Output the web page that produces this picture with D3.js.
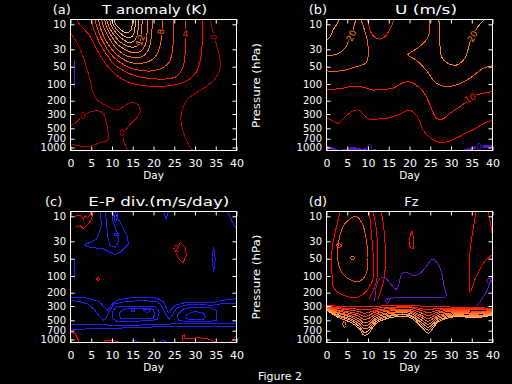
<!DOCTYPE html>
<html>
<head>
<meta charset="utf-8">
<script src="https://cdn.jsdelivr.net/npm/d3@7"></script>
<style>
  body { margin: 0; background: #000; }
  svg { display: block; background: #000; }
  text { font-family: "DejaVu Sans", sans-serif; fill: #fff; }
</style>
</head>
<body>
<svg id="fig" width="512" height="384"></svg>
<script>
var dayTicks = [0, 5, 10, 15, 20, 25, 30, 35, 40];
var pressureTicks = [10, 30, 50, 100, 200, 300, 500, 700, 1000];

// (a) T anomaly, K
var tAnomContours = [
    { level: -2, pts: [[0.85, 41], [0.85, 114]] },
    { level: 0, pts: [[0, 14.6], [1.1, 19.7], [2.7, 33.4], [3.9, 52.7], [4.7, 84], [5.5, 147], [6.4, 194], [7.9, 221], [9.5, 247], [11.5, 266], [12.9, 235], [14.4, 214], [16.1, 221], [16.8, 266], [16.1, 335], [14.9, 399], [13.7, 495], [12.7, 600], [12.9, 799], [13.9, 1143]] },
    { level: 0, pts: [[0, 461], [1.1, 418], [3.0, 322], [4.3, 288], [6.7, 271], [7.9, 294], [8.7, 418], [9.0, 738], [7.1, 823], [4.3, 968], [2.3, 941], [0, 868]] },
    { level: 0, pts: [[33.7, 8.1], [34.4, 14.8], [35.3, 26.8], [36.0, 39.1], [36.1, 53.2], [34.9, 79.6], [32.5, 114], [30.1, 147], [28.1, 194], [26.9, 266], [26.6, 373], [27.3, 589], [28.3, 844], [29.5, 1143]] },
    { level: 2, pts: [[1.5, 8.1], [2.3, 10.3], [4.5, 16], [5.9, 26], [7.4, 37.6], [9.1, 50.6], [11.0, 69.7], [13.4, 89], [16.3, 104], [19.2, 110], [22.8, 110], [26.0, 100], [28.4, 85], [30.3, 62], [31.3, 41], [31.7, 25], [31.8, 8.1]] },
    { level: 4, pts: [[4.9, 8.1], [5.7, 12.9], [6.9, 21.8], [8.6, 34.4], [10.5, 46.5], [12.9, 59.3], [15.8, 72.6], [19.2, 80.2], [22.8, 81.9], [25.3, 75.6], [26.7, 59.3], [27.4, 43.7], [27.7, 28.4], [27.7, 8.1]] },
    { level: 6, pts: [[5.9, 8.1], [6.6, 12.9], [7.9, 21.8], [9.5, 33.4], [11.5, 42.5], [13.9, 50.6], [16.8, 58], [19.7, 59], [22.1, 52.7], [23.8, 43.7], [24.5, 32.4], [24.8, 20], [24.8, 8.1]] },
    { level: 8, pts: [[6.7, 8.1], [7.4, 12.9], [8.6, 20.9], [10.3, 31.5], [12.2, 38.8], [14.6, 44.4], [17.3, 45.1], [19.5, 41.2], [20.9, 34.4], [21.6, 24.9], [22.0, 16.0], [22.1, 8.1]] },
    { level: 10, pts: [[7.5, 8.1], [8.1, 11.8], [9.3, 18.4], [10.8, 27.2], [12.7, 34.4], [14.9, 38.1], [17.0, 37.6], [18.5, 32.4], [19.2, 23.8], [19.6, 14.0], [19.7, 8.1]] },
    { level: 12, pts: [[8.2, 8.1], [8.8, 11.8], [10.0, 17.6], [11.5, 24.9], [13.4, 30.6], [15.3, 33.4], [17.0, 31.5], [18.0, 24.9], [18.4, 16.0], [18.5, 8.1]] },
    { level: 14, pts: [[8.7, 8.1], [9.3, 11.3], [10.5, 16.0], [12.0, 21.8], [13.7, 26.0], [15.3, 27.2], [16.6, 23.8], [17.0, 16.8], [17.3, 8.1]] },
    { level: 16, pts: [[9.4, 8.1], [10.0, 11.3], [11.2, 15.3], [12.7, 19.6], [14.1, 22.3], [15.3, 20.9], [16.1, 16.0], [16.3, 8.1]] },
    { level: 18, pts: [[9.9, 8.1], [10.5, 10.8], [11.7, 14.0], [13.2, 17.2], [14.4, 18.0], [15.3, 14.6], [15.6, 8.1]] },
    { level: 20, pts: [[10.4, 8.1], [11.0, 10.3], [12.2, 12.9], [13.4, 14.6], [14.4, 13.4], [14.9, 10.0], [14.9, 8.1]] }
];

// (b) U, m/s
var uWindContours = [
    { level: 25, pts: [[0, 20], [0.85, 17.4], [1.6, 12.9], [2.7, 9.3], [3.0, 8.1]] },
    { level: 20, pts: [[0, 36.5], [3.0, 33.7], [4.7, 26.8], [5.4, 20], [6.2, 14.6], [6.7, 10.3], [7.1, 8.1]] },
    { level: 15, pts: [[0, 59.3], [3.9, 58.6], [7.1, 50], [9.5, 45], [10.1, 33.7], [9.8, 20], [8.9, 11.1], [8.3, 8.1]] },
    { level: 10, pts: [[9.9, 8.1], [10.8, 14.8], [12.0, 18.5], [13.6, 18.5], [15.2, 12.9], [16.0, 9.3], [16.1, 8.1]] },
    { level: 15, pts: [[24.8, 8.1], [24.5, 17.4], [22.4, 26.8], [20.0, 33.7], [19.6, 35.4], [21.6, 41.2], [24.0, 57.1], [26.5, 97.5], [28.9, 112], [31.3, 104], [34.5, 79.6], [37.8, 53.2], [40, 48.6]] },
    { level: 20, pts: [[27.1, 8.1], [27.3, 20], [27.7, 37.3], [29.3, 45.5], [31.3, 47.6], [33.3, 39.1], [34.9, 18.5], [36.5, 11.1], [38.1, 8.1]] },
    { level: 10, pts: [[0, 128], [3.9, 119], [6.3, 109], [8.7, 114], [11.1, 128], [13.6, 125], [16.0, 119], [18.4, 95.3], [20.0, 91.3], [21.6, 104], [23.3, 137], [24.8, 217], [26.5, 348], [28.1, 357], [29.7, 294], [32.1, 241], [33.7, 207], [36.1, 158], [38.6, 144], [40, 137]] },
    { level: 5, pts: [[0, 351], [0.85, 363], [2.7, 418], [4.7, 322], [6.4, 273], [7.6, 266], [8.6, 292], [10.0, 357], [12.9, 357], [15.8, 335], [18.7, 283], [19.7, 266], [20.9, 283], [22.1, 347], [23.3, 533], [25.0, 684], [26.9, 799], [28.9, 799], [31.3, 684], [33.7, 581], [36.1, 495], [38.1, 413], [40, 373]] },
    { level: 0, pts: [[0, 983], [0.85, 1007], [2.7, 1150], [4.7, 1106], [6.3, 1032], [8.8, 1106], [10.3, 1032], [11.9, 1150], [13, 1160]] },
    { level: 0, pts: [[32.9, 1150], [35.3, 1032], [36.5, 968], [38.1, 968], [40, 968]] }
];

// (c) E-P flux divergence, m/s/day
var epDivContours = [
    { level: 1, pts: [[1.1, 10.0], [2.3, 9.4], [3.1, 11.2], [3.6, 9.8], [4.1, 10.6], [4.8, 9.2], [5.0, 8.1]] },
    { level: 1, pts: [[1.3, 16.1], [2.3, 15.0], [3.1, 17.3], [4.3, 14.0], [5.1, 11.2], [5.5, 8.1]] },
    { level: -1, pts: [[7.1, 8.1], [7.5, 15.0], [6.3, 27.3], [3.9, 32.4], [3.5, 34.0], [4.7, 35.7], [7.9, 37.5], [9.5, 41.3], [10.8, 44.2], [12.0, 41.3], [13.2, 35.7], [14.0, 32.4], [13.6, 23.3], [12.4, 15.0], [11.2, 10.4], [10.8, 8.1]] },
    { level: -2, pts: [[8.3, 8.1], [8.7, 13.0], [8.9, 23.3], [9.5, 34.0], [10.8, 35.7], [11.6, 30.8], [11.2, 20.2], [10.3, 13.0], [9.9, 8.1]] },
    { level: -3, pts: [[10.3, 8.1], [10.8, 13.0], [11.2, 11.3], [11.3, 8.1]] },
    { level: -3, pts: [[10.6, 21.5], [11.5, 21.5], [11.5, 23.5], [10.6, 23.5], [10.6, 21.5]] },
    { level: -1, pts: [[22.4, 8.1], [23.0, 11.2], [23.6, 8.1]] },
    { level: -1, pts: [[37.8, 8.1], [39.0, 13.0], [40, 17.3]] },
    { level: -1, pts: [[34.5, 35.7], [34.1, 50.4], [34.5, 85.6], [34.9, 50.4], [34.5, 35.7]] },
    { level: -1, pts: [[0.85, 50.4], [0.85, 113]] },
    { level: 1, pts: [[6.3, 113], [6.7, 105], [7.1, 113], [6.7, 122], [6.3, 113]] },
    { level: 1, pts: [[26.5, 30.8], [27.7, 35.7], [27.9, 45.5], [27.1, 59.3], [26.1, 50.4], [25.3, 41.3], [24.8, 37.5], [25.7, 35.7], [26.5, 30.8]] },
    { level: -1, pts: [[0, 229], [2.3, 229], [4.7, 240], [7.1, 266], [8.3, 325], [9.0, 349], [9.8, 292], [11.2, 251], [13.7, 236], [17.5, 229], [20.9, 236], [22.4, 266], [23.1, 325], [23.6, 381], [24.3, 337], [25.3, 292], [28.1, 266], [31.3, 266], [34.4, 270], [36.1, 254], [38.6, 245], [40, 240]] },
    { level: -2, pts: [[0, 254], [2.3, 262], [4.2, 283], [5.7, 337], [6.9, 432], [7.9, 499], [8.6, 465], [9.3, 362], [10.5, 283], [13.2, 262], [17.5, 254], [20.7, 262], [21.9, 292], [22.8, 388], [23.8, 482], [24.5, 417], [25.5, 325], [28.1, 288], [31.3, 290], [34.4, 292], [36.6, 279], [40, 277]] },
    { level: -2, pts: [[0, 571], [4.7, 571], [7.1, 568], [9.5, 587], [14.4, 587], [19.2, 578], [22.8, 568], [25.3, 559], [30.1, 559], [34.9, 555], [40, 555]] },
    { level: -1, pts: [[0, 668], [7.1, 657], [14.4, 636], [21.6, 616], [28.9, 606], [34.9, 606], [40, 616]] },
    { level: -3, pts: [[10.0, 375], [11.0, 310], [14.4, 300], [18.0, 300], [20.4, 310], [21.4, 375], [20.9, 490], [16.1, 515], [11.2, 515], [10.0, 465], [10.0, 375]] },
    { level: -4, pts: [[12.0, 465], [11.7, 391], [12.8, 337], [15.2, 325], [18.4, 325], [20.0, 337], [20.3, 417], [19.9, 465], [16.0, 475], [12.0, 465]] },
    { level: -5, pts: [[17.5, 340], [19.3, 340], [18.6, 395], [17.5, 340]] },
    { level: -5, pts: [[14.6, 345], [15.4, 345], [15.4, 365], [14.6, 365], [14.6, 345]] },
    { level: -3, pts: [[25.7, 417], [27.3, 330], [29.7, 315], [33.7, 318], [35.3, 360], [35.3, 499], [32.9, 524], [28.1, 524], [26.1, 499], [25.7, 417]] },
    { level: -4, pts: [[27.7, 465], [28.1, 402], [29.7, 368], [31.7, 375], [32.5, 432], [32.0, 482], [28.9, 490], [27.7, 465]] },
    { level: 1, pts: [[0, 730], [1.1, 790], [1.9, 1028], [2.1, 1145]] },
    { level: 1, pts: [[7.9, 1145], [8.7, 1028], [10.0, 1040], [11.2, 1080], [12.0, 1145]] },
    { level: -1, pts: [[14.4, 1145], [15.6, 1040], [16.8, 1145]] },
    { level: -1, pts: [[21.1, 1145], [22.4, 1028], [23.3, 1145]] },
    { level: 1, pts: [[26.9, 1145], [27.1, 839], [27.5, 830], [27.6, 946], [28.9, 960], [30.5, 935], [32.5, 950], [33.7, 1000], [35.3, 1145]] },
    { level: 1, pts: [[38.6, 1145], [39.3, 950], [40, 873]] }
];

// (d) Fz
var fzContours = [
    { level: 1, pts: [[3.3, 8.1], [2.5, 14.8], [1.9, 23.3], [1.1, 50.4], [1.3, 86], [1.9, 171], [4.3, 218], [7.1, 233], [8.8, 210], [10.0, 171], [11.2, 113], [11.3, 50.4], [10.8, 20.2], [10.3, 8.1]] },
    { level: 5, pts: [[5.5, 11.5], [7.1, 10.0], [8.7, 14.3], [9.5, 25.7], [10.0, 48.9], [9.5, 94], [7.9, 124], [5.5, 115], [3.5, 82.5], [2.7, 48.9], [3.1, 25.7], [4.3, 14.3], [5.5, 11.5]] },
    { level: 6, pts: [[5.9, 47.5], [6.7, 47.5], [6.7, 50.5], [5.9, 50.5], [5.9, 47.5]] },
    { level: 4, pts: [[2.3, 33], [3.2, 32.2], [3.7, 34.5], [2.8, 35.5], [2.3, 33]] },
    { level: 1, pts: [[11.2, 8.1], [12.0, 17.3], [12.4, 50.4], [12.0, 129], [11.0, 200], [10.3, 240]] },
    { level: 1, pts: [[13.2, 8.1], [14.0, 23.3], [14.0, 98], [13.2, 171], [12.7, 215], [12.3, 250]] },
    { level: 1, pts: [[20.7, 18.7], [21.0, 30.8], [20.8, 37.5], [20.0, 34.0], [20.2, 23.3], [20.7, 18.7]] },
    { level: 1, pts: [[36.0, 8.1], [35.3, 18.4], [34.6, 39], [34.5, 79], [34.6, 196], [35.7, 119], [37.8, 60], [40, 44]] },
    { level: 1, pts: [[39.0, 8.1], [39.6, 14.8], [40, 23.3]] },
    { level: -1, pts: [[11.6, 262], [11.8, 196], [12.2, 135], [12.9, 111], [14.0, 105], [15.3, 135], [16.8, 173], [17.6, 129], [18.0, 93], [19.2, 86], [20.8, 97], [22.4, 92], [24.0, 69], [25.5, 51], [26.9, 61.7], [27.7, 86], [28.3, 147], [28.8, 222], [27.4, 233], [23.8, 233], [20.2, 233], [16.6, 233], [15.3, 240]] },
    { level: -1, pts: [[14.4, 249], [15.2, 236], [14.8, 275], [14.2, 262], [14.4, 249]] },
    { level: -1, pts: [[40, 325], [36.1, 325], [37.3, 249], [38.6, 188], [39.4, 129], [40, 97]] },
    { level: -1, pts: [[38.6, 118], [39.3, 111], [39.8, 126], [39.0, 134], [38.6, 118]] },
    { level: 7, pts: [[4.3, 507], [4.7, 596], [4.3, 626], [3.9, 559], [4.3, 507]] }
];
// the dense Fz band near the surface, one row per contour, top to bottom
var fzBundleDays = [0, 3, 6, 8, 9, 10, 12, 16, 20, 23, 24.5, 27, 31, 36, 40];
var fzBundleP = [
    [297, 302, 307, 307, 307, 307, 302, 297, 292, 302, 307, 307, 313, 319, 325],
    [302, 319, 331, 337, 343, 343, 325, 313, 307, 331, 343, 325, 325, 331, 337],
    [307, 331, 349, 368, 388, 381, 349, 325, 319, 355, 381, 349, 337, 343, 343],
    [313, 349, 375, 402, 432, 424, 368, 343, 337, 388, 424, 368, 349, 362, 355],
    [319, 362, 395, 440, 482, 473, 395, 355, 355, 424, 473, 388, 362, 375, 362],
    [325, 381, 424, 482, 541, 532, 424, 375, 368, 456, 515, 417, 381, 388, 375],
    [331, 395, 448, 524, 596, 587, 456, 388, 388, 499, 568, 440, 395, 402, 381],
    [337, 417, 482, 568, 657, 646, 482, 410, 410, 541, 626, 465, 410, 424, 395],
    [343, 432, 507, 616, 744, 715, 515, 424, 424, 578, 690, 499, 424, 440, 402],
    [349, 456, 541, 668, 839, 806, 550, 448, 448, 626, 774, 524, 440, 456, 417]
];

var contourLabels = [
    { panel: 'a', text: '12', day: 16.8, p: 20, level: 12, angle: -70 },
    { panel: 'a', text: '8', day: 21.8, p: 13.8, level: 8, angle: -85 },
    { panel: 'a', text: '4', day: 27.7, p: 15.3, level: 4, angle: 0 },
    { panel: 'a', text: '0', day: 34.5, p: 17.6, level: 0, angle: -80 },
    { panel: 'a', text: '0', day: 3.0, p: 322, level: 0, angle: 0 },
    { panel: 'a', text: '0', day: 12.4, p: 580, level: 0, angle: 0 },
    { panel: 'b', text: '20', day: 6.0, p: 16.5, level: 20, angle: -65 },
    { panel: 'b', text: '20', day: 35.2, p: 17, level: 20, angle: -60 },
    { panel: 'b', text: '10', day: 34.6, p: 180, level: 10, angle: -30 },
    { panel: 'b', text: '0', day: 10.4, p: 1030, level: 0, angle: 0 },
    { panel: 'b', text: '0', day: 36.8, p: 965, level: 0, angle: 0 },
    { panel: 'c', text: '2', day: 25.5, p: 37.5, level: 1, angle: 0 }
];

var W = 166, H = 131;
// measured offsets of the pressure ticks from the top of a frame
var tickOffsets = [4.8, 29.8, 47.2, 64.5, 81.2, 94.5, 108.8, 119.2, 128];

d3.drawContourPanel = class {

    constructor(svg, id, left, top) {
        this.svg = svg;
        this.id = id;
        this.left = left;
        this.top = top;
    }

    contours(val) {
        this._contours = val;
        return this;
    }
    color(val) {
        this._color = val;
        return this;
    }
    strokeWidth(val) {
        this._strokeWidth = val;
        return this;
    }
    curve(val) {
        this._curve = val;
        return this;
    }

    draw() {
        var color = this._color;
        var strokeWidth = this._strokeWidth || (() => 1);
        var x = d3.scaleLinear().domain([0, 40]).range([0, W]);
        var y = d3.scaleLinear().domain(pressureTicks.map(Math.log10)).range(tickOffsets);
        var logTicks = pressureTicks.map(Math.log10);

        var g = this.svg.append('g')
            .attr('transform', 'translate(' + this.left + ',' + this.top + ')');

        g.append('clipPath').attr('id', 'clip-' + this.id)
            .append('rect').attr('width', W).attr('height', H);

        var line = d3.line()
            .x(d => x(d[0]))
            .y(d => y(Math.log10(d[1])))
            .curve(this._curve || d3.curveCatmullRom.alpha(0.5));

        var cg = g.append('g').attr('clip-path', 'url(#clip-' + this.id + ')');
        cg.selectAll('path')
            .data(this._contours).enter()
            .append('path')
            .attr('d', d => line(d.pts))
            .attr('fill', 'none')
            .attr('stroke', d => color(d.level))
            .attr('stroke-width', d => strokeWidth(d.level))
            .attr('shape-rendering', 'crispEdges');

        var labels = contourLabels.filter(d => d.panel === this.id);
        cg.selectAll('text')
            .data(labels).enter()
            .append('text')
            .attr('transform', d => 'translate(' + x(d.day) + ',' + y(Math.log10(d.p)) + ') rotate(' + d.angle + ')')
            .attr('text-anchor', 'middle')
            .attr('dy', '0.35em')
            .attr('font-size', 9)
            .attr('stroke', '#000')
            .attr('stroke-width', 2.5)
            .attr('paint-order', 'stroke')
            .style('fill', d => color(d.level))
            .text(d => d.text);

        var axes = [
            g.append('g').attr('transform', 'translate(0,' + H + ')')
                .call(d3.axisBottom(x).tickValues(dayTicks).tickSize(-4).tickPadding(9)),
            g.append('g')
                .call(d3.axisTop(x).tickValues(dayTicks).tickSize(-4).tickFormat('')),
            g.append('g')
                .call(d3.axisLeft(y).tickValues(logTicks).tickSize(-4).tickPadding(4.5)
                    .tickFormat(v => Math.round(Math.pow(10, v)))),
            g.append('g').attr('transform', 'translate(' + W + ',0)')
                .call(d3.axisRight(y).tickValues(logTicks).tickSize(-4).tickFormat(''))
        ];
        axes.forEach((a, i) => {
            a.attr('font-family', null).attr('font-size', i === 2 ? 10 : 11);
            a.select('.domain').remove();
            a.selectAll('.tick line').attr('stroke', '#fff');
        });

        g.append('rect')
            .attr('width', W)
            .attr('height', H)
            .attr('fill', 'none')
            .attr('stroke', '#fff');

        g.append('text')
            .attr('x', W / 2)
            .attr('y', H + 28.8)
            .attr('text-anchor', 'middle')
            .attr('font-size', 10.5)
            .text('Day');
        return this;
    }
};

var svg = d3.select('#fig');
var purple = '#6414c8';

var warmA = d3.scaleLinear().domain([2, 8, 20]).range(['#ff0000', '#ff5a10', '#ffb45a']);
new d3.drawContourPanel(svg, 'a', 70.5, 19.5)
    .contours(tAnomContours)
    .color(l => l < 0 ? purple : l === 0 ? '#b40000' : warmA(l))
    .draw();

var warmB = d3.scaleLinear().domain([5, 10, 15, 20, 25]).range(['#f00000', '#ff1e00', '#ff5a14', '#ff7828', '#ff9640']);
new d3.drawContourPanel(svg, 'b', 326.5, 19.5)
    .contours(uWindContours)
    .color(l => l <= 0 ? '#5a14c8' : warmB(l))
    .strokeWidth(l => l <= 0 ? 2.5 : 1)
    .draw();

new d3.drawContourPanel(svg, 'c', 70.5, 211.5)
    .contours(epDivContours)
    .color(l => l < 0 ? '#1e1eff' : '#ff0000')
    .curve(d3.curveLinear)
    .draw();

var bundle = fzBundleP.map((row, k) => ({
    level: k + 2,
    pts: fzBundleDays.map((d, i) => [d, row[i]])
}));
var warmD = d3.scaleLinear().domain([1, 6, 11]).range(['#ff0000', '#ff5a14', '#ffaa5a']);
new d3.drawContourPanel(svg, 'd', 326.5, 211.5)
    .contours(fzContours.concat(bundle))
    .color(l => l < 0 ? purple : warmD(l))
    .draw();

// panel titles
var titles = [
    { tag: '(a)', tagX: 52.7, text: 'T anomaly (K)', x: 102, y: 13.5, len: 105 },
    { tag: '(b)', tagX: 308.7, text: 'U (m/s)', x: 395, y: 13.5, len: 62 },
    { tag: '(c)', tagX: 45, text: 'E-P div.(m/s/day)', x: 88.3, y: 205.5, len: 141 },
    { tag: '(d)', tagX: 308.7, text: 'Fz', x: 404.3, y: 205.5, len: null }
];
titles.forEach(t => {
    svg.append('text').attr('x', t.tagX).attr('y', t.y).attr('font-size', 13).text(t.tag);
    var txt = svg.append('text').attr('x', t.x).attr('y', t.y).attr('font-size', 13).text(t.text);
    if (t.len) txt.attr('textLength', t.len).attr('lengthAdjust', 'spacingAndGlyphs');
});

[85.5, 277].forEach(cy => {
    svg.append('text')
        .attr('transform', 'translate(260,' + cy + ') rotate(-90)')
        .attr('text-anchor', 'middle')
        .attr('font-size', 11)
        .attr('textLength', 85)
        .attr('lengthAdjust', 'spacingAndGlyphs')
        .text('Pressure (hPa)');
});

svg.append('text')
    .attr('x', 258)
    .attr('y', 380)
    .attr('font-size', 11)
    .text('Figure 2');
</script>
</body>
</html>
